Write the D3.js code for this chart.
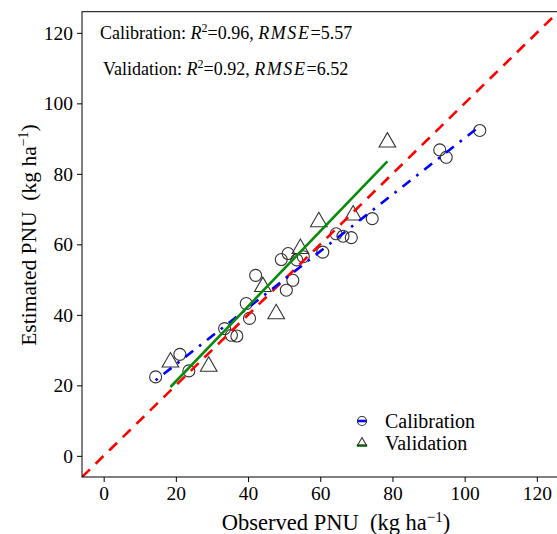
<!DOCTYPE html>
<html>
<head>
<meta charset="utf-8">
<script src="https://cdn.jsdelivr.net/npm/d3@7/dist/d3.min.js"></script>
<style>
  body { margin: 0; background: #fff; }
  text { font-family: 'Liberation Serif', 'Times New Roman', serif; fill: #000; }
</style>
</head>
<body>
<div id="chart"></div>
<script>
// calibration set (circles)
const calObs = [14.4, 21.1, 23.6, 33.5, 35.4, 36.9, 39.5, 40.4, 42.1, 50.6, 52.4, 49.2,
  51.1, 53.5, 55.3, 60.7, 64.4, 66.3, 68.6, 74.4, 93.1, 94.9, 104.2]
const calEst = [22.4, 28.8, 24.1, 36.1, 34.2, 34.0, 43.2, 39.0, 51.2, 47.0, 49.8, 55.7,
  57.4, 55.6, 56.5, 57.8, 63.0, 62.3, 61.9, 67.3, 86.8, 84.7, 92.3]
// validation set (triangles)
const valObs = [18.5, 29.1, 44.1, 47.8, 54.5, 59.6, 69.1, 78.6]
const valEst = [27.0, 25.8, 48.4, 40.7, 59.2, 66.8, 68.7, 89.4]

const xTicks = [0, 20, 40, 60, 80, 100, 120]
const yTicks = [0, 20, 40, 60, 80, 100, 120]
const statNames = ['Calibration: ', 'Validation: ']
const statR2 = ['0.96', '0.92']
const statRmse = ['5.57', '6.52']
const legendNames = ['Calibration', 'Validation']

const width = 557
const height = 534
const panel = { left: 82, top: 11.7, right: 558.5, bottom: 477 }

const svg = d3.select('#chart')
  .append('svg')
  .attr('width', width)
  .attr('height', height)

const x = d3.scaleLinear().domain([-6, 126]).range([panel.left, panel.right])
const y = d3.scaleLinear().domain([-6, 126]).range([panel.bottom, panel.top])

svg.append('clipPath').attr('id', 'clip')
  .append('rect')
  .attr('x', panel.left).attr('y', panel.top)
  .attr('width', panel.right - panel.left).attr('height', panel.bottom - panel.top)

// least squares fit, drawn across the range of the data
function fitLine(xs, ys) {
  const mx = d3.mean(xs)
  const my = d3.mean(ys)
  let sxy = 0
  let sxx = 0
  xs.forEach((v, i) => {
    sxy += (v - mx) * (ys[i] - my)
    sxx += (v - mx) * (v - mx)
  })
  const b = sxy / sxx
  const a = my - b * mx
  const [x0, x1] = d3.extent(xs)
  return [[x0, a + b * x0], [x1, a + b * x1]]
}

const line = d3.line().x((d) => x(d[0])).y((d) => y(d[1]))

// axes
const xAxis = svg.append('g')
  .attr('transform', `translate(0,${panel.bottom})`)
  .call(d3.axisBottom(x).tickValues(xTicks).tickSize(5).tickPadding(3))
const yAxis = svg.append('g')
  .attr('transform', `translate(${panel.left},0)`)
  .call(d3.axisLeft(y).tickValues(yTicks).tickSize(5).tickPadding(4))

;[xAxis, yAxis].forEach((g) => {
  g.attr('font-family', null)
  g.select('.domain').remove()
  g.selectAll('.tick line').attr('stroke', '#000')
  g.selectAll('.tick text')
    .style('font-family', "'Liberation Serif', serif")
    .style('font-size', '19.5px')
    .attr('fill', '#000')
})
xAxis.selectAll('.tick text').attr('dy', '0.75em')
yAxis.selectAll('.tick text').attr('dy', '0.34em')

const plot = svg.append('g').attr('clip-path', 'url(#clip)')

// points
const pointStroke = '#333'
plot.append('g')
  .selectAll('circle')
  .data(calObs.map((v, i) => [v, calEst[i]]))
  .join('circle')
  .attr('cx', (d) => x(d[0]))
  .attr('cy', (d) => y(d[1]))
  .attr('r', 6)
  .attr('fill', 'none')
  .attr('stroke', pointStroke)
  .attr('stroke-width', 1.1)

const tri = d3.symbol().type(d3.symbolTriangle).size(120)
plot.append('g')
  .selectAll('path')
  .data(valObs.map((v, i) => [v, valEst[i]]))
  .join('path')
  .attr('d', tri)
  .attr('transform', (d) => `translate(${x(d[0])},${y(d[1]) + 1.5})`)
  .attr('fill', 'none')
  .attr('stroke', pointStroke)
  .attr('stroke-width', 1.1)

// 1:1 line
plot.append('path')
  .attr('d', line([[-6, -6], [126, 126]]))
  .attr('fill', 'none')
  .attr('stroke', '#ff0000')
  .attr('stroke-width', 2.6)
  .attr('stroke-dasharray', '11,8')

plot.append('path')
  .attr('d', line(fitLine(calObs, calEst)))
  .attr('fill', 'none')
  .attr('stroke', '#0000ff')
  .attr('stroke-width', 2.6)
  .attr('stroke-dasharray', '2.6,7.5,10,7.5')

plot.append('path')
  .attr('d', line(fitLine(valObs, valEst)))
  .attr('fill', 'none')
  .attr('stroke', '#0a8a0a')
  .attr('stroke-width', 2.6)

// panel border
svg.append('rect')
  .attr('x', panel.left).attr('y', panel.top)
  .attr('width', panel.right - panel.left).attr('height', panel.bottom - panel.top)
  .attr('fill', 'none')
  .attr('stroke', '#000')
  .attr('stroke-width', 1)

// statistics text
const stats = svg.append('g')
statNames.forEach((name, i) => {
  const t = stats.append('text')
    .attr('x', i === 0 ? 100 : 103)
    .attr('y', i === 0 ? 38.5 : 75)
    .style('font-size', '18px')
  t.append('tspan').text(name)
  t.append('tspan').style('font-style', 'italic').text('R')
  t.append('tspan').attr('dy', -7).style('font-size', '12px').text('2')
  t.append('tspan').attr('dy', 7).text('=' + statR2[i] + ', ')
  t.append('tspan').style('font-style', 'italic').attr('letter-spacing', 1.6).text('RMSE')
  t.append('tspan').text('=' + statRmse[i])
})

// legend
const legend = svg.append('g')
const keyX = 362
const keyY = [421, 443]
legend.append('line')
  .attr('x1', keyX - 5).attr('x2', keyX + 5)
  .attr('y1', keyY[0]).attr('y2', keyY[0])
  .attr('stroke', '#0000ff').attr('stroke-width', 2.6)
legend.append('circle')
  .attr('cx', keyX).attr('cy', keyY[0]).attr('r', 4.5)
  .attr('fill', 'none').attr('stroke', pointStroke).attr('stroke-width', 1.1)
legend.append('line')
  .attr('x1', keyX - 5).attr('x2', keyX + 5)
  .attr('y1', keyY[1] + 2.5).attr('y2', keyY[1] + 2.5)
  .attr('stroke', '#0a8a0a').attr('stroke-width', 2.6)
legend.append('path')
  .attr('d', d3.symbol().type(d3.symbolTriangle).size(38)())
  .attr('transform', `translate(${keyX},${keyY[1]})`)
  .attr('fill', 'none').attr('stroke', pointStroke).attr('stroke-width', 1.1)
legendNames.forEach((name, i) => {
  legend.append('text')
    .attr('x', 385)
    .attr('y', keyY[i] + 6.5)
    .style('font-size', '20px')
    .text(name)
})

// axis titles
const xTitle = svg.append('text')
  .attr('x', 336)
  .attr('y', 530)
  .attr('text-anchor', 'middle')
  .style('font-size', '22.5px')
  .style('white-space', 'pre')
xTitle.append('tspan').text('Observed PNU  (kg ha')
xTitle.append('tspan').attr('dy', -8).style('font-size', '15px').text('\u22121')
xTitle.append('tspan').attr('dy', 8).text(')')

const yTitle = svg.append('text')
  .attr('transform', 'translate(36,235) rotate(-90)')
  .attr('text-anchor', 'middle')
  .style('font-size', '21.5px')
  .style('white-space', 'pre')
yTitle.append('tspan').text('Estimated PNU  (kg ha')
yTitle.append('tspan').attr('dy', -8).style('font-size', '14px').text('\u22121')
yTitle.append('tspan').attr('dy', 8).text(')')
</script>
</body>
</html>
